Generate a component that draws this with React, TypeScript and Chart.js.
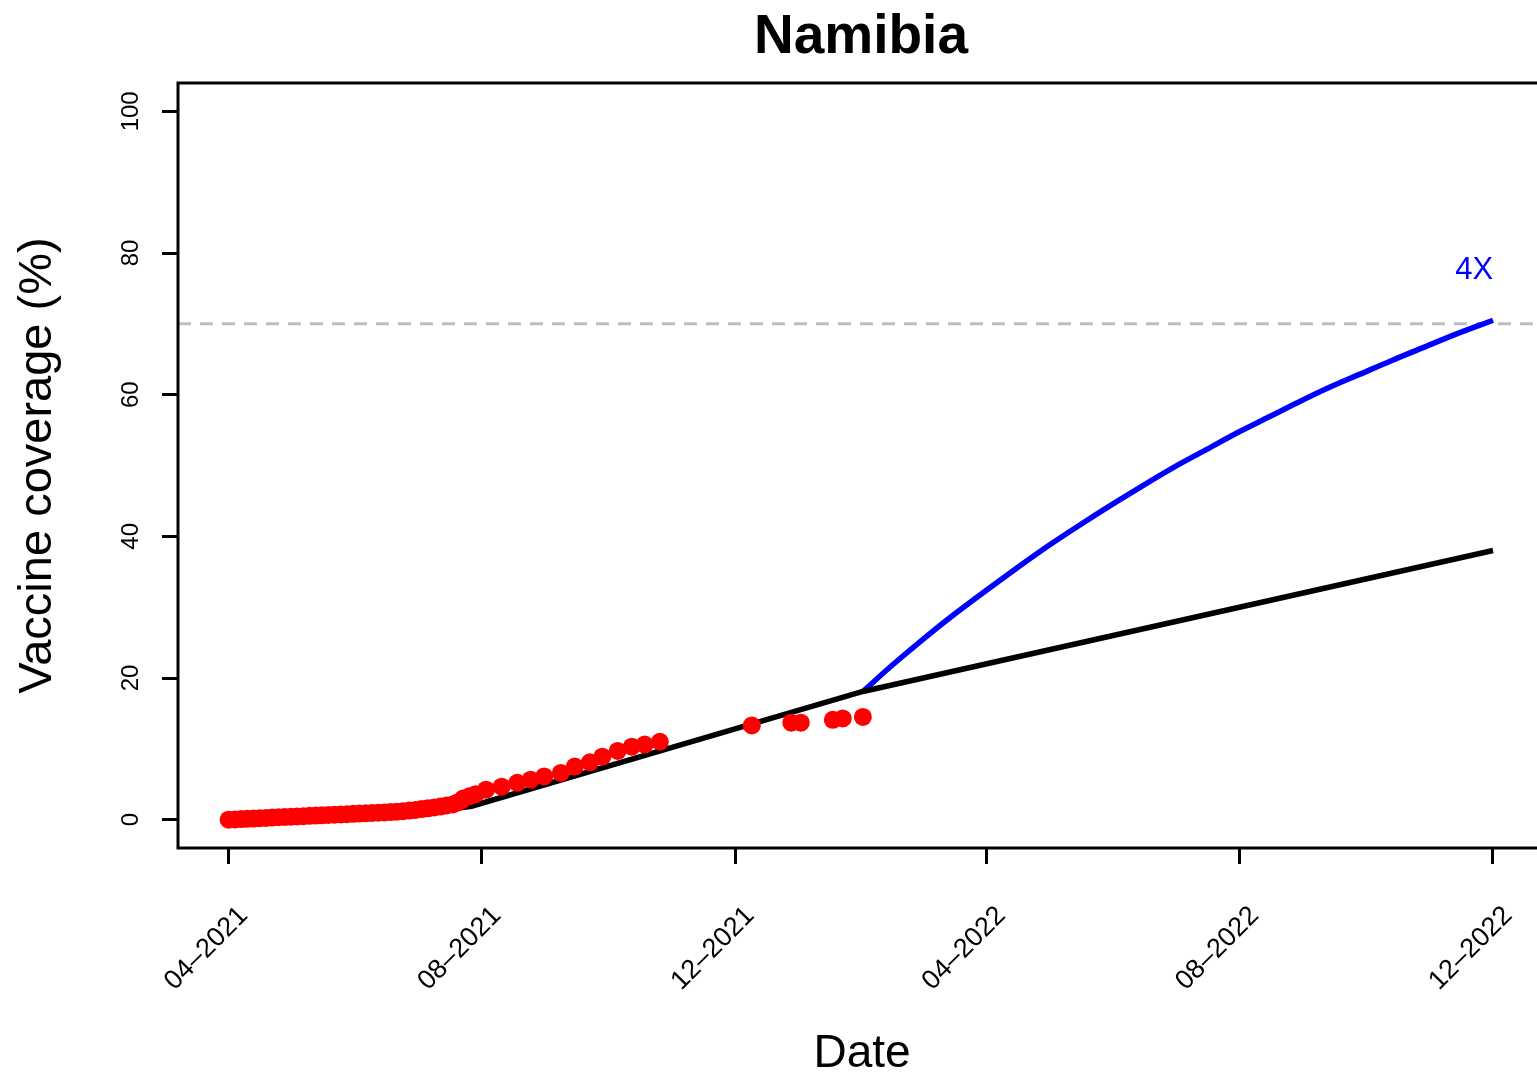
import React, { useEffect, useRef } from "react";
import { Chart, registerables } from "chart.js";

Chart.register(...registerables);

// ---- data (x = days since 2021-04-01, y = vaccine coverage %) ----
const tickDays = [0, 122, 244, 365, 487, 609];
const tickLabels = ["04\u20132021", "08\u20132021", "12\u20132021", "04\u20132022", "08\u20132022", "12\u20132022"];
const yTicks = [0, 20, 40, 60, 80, 100];

const observedDays = [
  0, 3, 6, 9, 12, 15, 18, 21, 24, 27, 30, 33, 36, 39, 42, 45, 48, 51, 54, 57, 60, 63, 66, 69, 72, 75,
  78, 81, 84, 87, 90, 93, 96, 99, 102, 105, 108, 110, 112, 113, 116, 119,
  124, 131.5, 139, 145.5, 152, 160, 166.7, 174, 180, 187.4, 194.2, 200.4, 207.7,
  252, 271, 275.6, 291, 295.8, 305.5,
];
const observedCoverage = [
  0.0, 0.04, 0.08, 0.12, 0.16, 0.2, 0.25, 0.3, 0.34, 0.38, 0.42, 0.46, 0.5, 0.54, 0.58, 0.62, 0.66, 0.7, 0.74, 0.78, 0.82, 0.86, 0.9, 0.94, 0.98, 1.02,
  1.07, 1.12, 1.2, 1.28, 1.38, 1.5, 1.6, 1.72, 1.85, 2.0, 2.15, 2.4, 2.7, 3.0, 3.3, 3.6,
  4.24, 4.66, 5.2, 5.65, 6.1, 6.6, 7.5, 8.1, 8.9, 9.7, 10.3, 10.6, 11.0,
  13.3, 13.7, 13.7, 14.1, 14.3, 14.5,
];

const trendDays = [0, 30, 60, 90, 105, 117, 246, 305.5, 609];
const trendCoverage = [0, 0.3, 0.7, 1.15, 1.45, 1.9, 13.0, 18.1, 38.0];

const scaledDays = [305.5, 320, 335, 350, 365, 380, 395, 410, 425, 440, 455, 470, 487, 500, 515, 530, 545, 560, 575, 590, 609];
const scaledCoverage = [18.1, 21.9, 25.6, 29.1, 32.4, 35.6, 38.7, 41.6, 44.4, 47.1, 49.7, 52.1, 54.8, 56.7, 58.9, 61.0, 62.9, 64.8, 66.6, 68.4, 70.5];

const targetCoverage = 70;
const scenarioLabel = "4X";
const scenarioLabelAt = { day: 600, value: 76.4 };

const X_MIN = -24.4;
const X_MAX = 630.2;
const Y_MIN = -4;
const Y_MAX = 104;

const FONT = '"Liberation Sans", Arial, Helvetica, sans-serif';

const toPoints = (xs: number[], ys: number[]) => xs.map((x, i) => ({ x, y: ys[i] }));

const decorPlugin = {
  id: "decor",
  afterDraw(chart: any) {
    const { ctx, chartArea, scales } = chart;
    const xs = scales.x;
    const ys = scales.y;
    ctx.save();
    // plot box (right side lies off the canvas)
    ctx.strokeStyle = "#000";
    ctx.lineWidth = 3;
    ctx.beginPath();
    ctx.moveTo(chartArea.right + 20, chartArea.top);
    ctx.lineTo(chartArea.left, chartArea.top);
    ctx.lineTo(chartArea.left, chartArea.bottom);
    ctx.lineTo(chartArea.right + 20, chartArea.bottom);
    ctx.stroke();

    // y tick labels, rotated
    ctx.fillStyle = "#000";
    ctx.font = `24px ${FONT}`;
    ctx.textAlign = "center";
    ctx.textBaseline = "alphabetic";
    ys.ticks.forEach((t: any) => {
      const py = ys.getPixelForValue(t.value);
      ctx.save();
      ctx.translate(138, py);
      ctx.rotate(-Math.PI / 2);
      ctx.fillText(String(t.value), 0, 0);
      ctx.restore();
    });

    // title
    ctx.font = `bold 55px ${FONT}`;
    ctx.fillText("Namibia", 861, 53);

    // x axis title
    ctx.font = `46px ${FONT}`;
    ctx.fillText("Date", 862, 1067);

    // y axis title
    ctx.save();
    ctx.translate(51, (chartArea.top + chartArea.bottom) / 2);
    ctx.rotate(-Math.PI / 2);
    ctx.font = `47px ${FONT}`;
    ctx.fillText("Vaccine coverage (%)", 0, 0);
    ctx.restore();

    // scenario label
    ctx.fillStyle = "#0000ff";
    ctx.font = `31px ${FONT}`;
    ctx.fillText(scenarioLabel, xs.getPixelForValue(scenarioLabelAt.day), ys.getPixelForValue(scenarioLabelAt.value));
    ctx.restore();
  },
};

export default function App() {
  const canvasRef = useRef<HTMLCanvasElement | null>(null);

  useEffect(() => {
    if (!canvasRef.current) return;
    const chart = new Chart(canvasRef.current, {
      type: "scatter",
      data: {
        datasets: [
          {
            type: "scatter",
            label: "observed",
            data: toPoints(observedDays, observedCoverage),
            backgroundColor: "#ff0000",
            borderWidth: 0,
            pointRadius: 9,
          },
          {
            type: "line",
            label: "trend",
            data: toPoints(trendDays, trendCoverage),
            borderColor: "#000000",
            borderWidth: 5.5,
            pointRadius: 0,
            fill: false,
            tension: 0,
          },
          {
            type: "line",
            label: "4X",
            data: toPoints(scaledDays, scaledCoverage),
            borderColor: "#0000ff",
            borderWidth: 5.5,
            pointRadius: 0,
            fill: false,
            cubicInterpolationMode: "monotone",
          },
          {
            type: "line",
            label: "target",
            data: [
              { x: X_MIN, y: targetCoverage },
              { x: X_MAX, y: targetCoverage },
            ],
            borderColor: "#bebebe",
            borderWidth: 3,
            borderDash: [13, 9],
            pointRadius: 0,
            fill: false,
          },
        ],
      } as any,
      options: {
        responsive: false,
        animation: false,
        layout: { autoPadding: false, padding: { top: 83, left: 0, right: 0, bottom: 0 } },
        plugins: {
          legend: { display: false },
          tooltip: { enabled: false },
          title: { display: false },
        },
        scales: {
          x: {
            type: "linear",
            min: X_MIN,
            max: X_MAX,
            afterBuildTicks: (scale: any) => {
              scale.ticks = tickDays.map((v) => ({ value: v }));
            },
            afterFit: (scale: any) => {
              scale.height = 225;
              scale.paddingLeft = 0;
              scale.paddingRight = 0;
            },
            border: { display: false },
            grid: {
              drawOnChartArea: false,
              drawTicks: true,
              tickLength: 16,
              tickWidth: 3,
              tickColor: "#000",
              color: "#000",
            },
            ticks: {
              autoSkip: false,
              minRotation: 45,
              maxRotation: 45,
              labelOffset: 15,
              padding: 36,
              color: "#000",
              font: { family: FONT, size: 27 },
              callback: (value: any) => {
                const i = tickDays.indexOf(Number(value));
                return i >= 0 ? tickLabels[i] : "";
              },
            },
          },
          y: {
            type: "linear",
            min: Y_MIN,
            max: Y_MAX,
            afterBuildTicks: (scale: any) => {
              scale.ticks = yTicks.map((v) => ({ value: v }));
            },
            afterFit: (scale: any) => {
              scale.width = 178;
              scale.paddingTop = 0;
              scale.paddingBottom = 0;
            },
            border: { display: false },
            grid: {
              drawOnChartArea: false,
              drawTicks: true,
              tickLength: 16,
              tickWidth: 3,
              tickColor: "#000",
              color: "#000",
            },
            ticks: { display: false },
          },
        },
      } as any,
      plugins: [decorPlugin],
    });
    return () => chart.destroy();
  }, []);

  return (
    <div style={{ position: "fixed", left: 0, top: 0, width: 1537, height: 1073, background: "#fff" }}>
      <canvas ref={canvasRef} width={1537} height={1073} style={{ display: "block" }} />
    </div>
  );
}
